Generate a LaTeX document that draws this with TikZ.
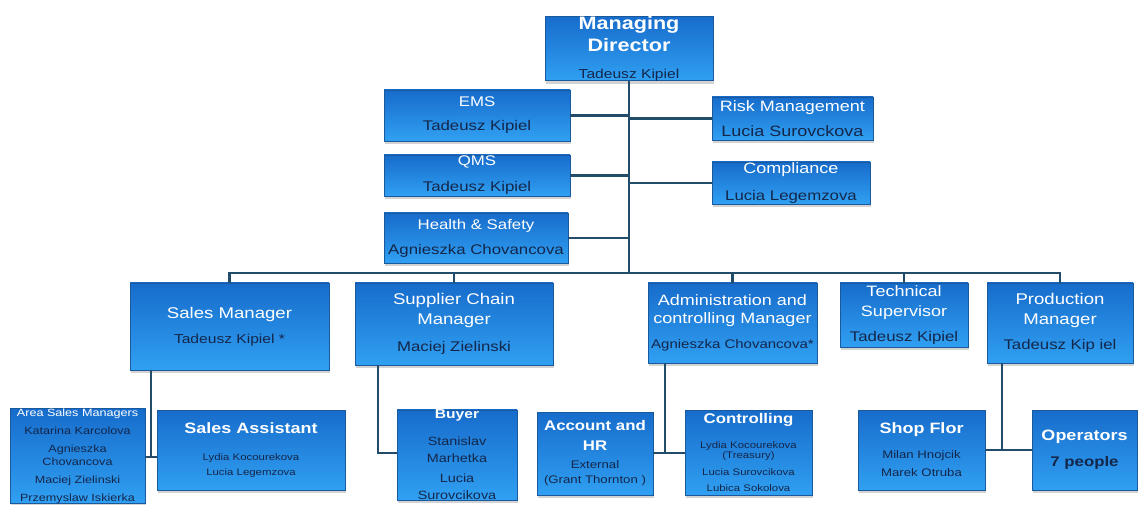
\documentclass[tikz,border=0pt]{standalone}
\usepackage{fontspec}
\setmainfont{Liberation Sans}[FakeStretch=1.2]
\usetikzlibrary{shadows}
\definecolor{boxtop}{HTML}{176CCB}
\definecolor{boxbot}{HTML}{30A0F2}
\definecolor{boxline}{HTML}{1A5A9C}
\definecolor{linkc}{HTML}{224C6A}
\definecolor{namec}{HTML}{14264A}
\tikzstyle{box}=[draw=boxline, line width=0.8pt, top color=boxtop, bottom color=boxbot, inner sep=0pt, align=center, drop shadow={shadow xshift=1pt, shadow yshift=-3pt, opacity=0.35}]
\tikzstyle{link}=[draw=linkc, line width=2.5pt]
\tikzset{rows/.style={font=\fontsize{10}{#1}\selectfont}}
\newcommand{\ttl}[2]{{\color{white}\fontsize{#1}{#1}\selectfont #2}}
\newcommand{\ttb}[2]{{\color{white}\bfseries\fontsize{#1}{#1}\selectfont #2}}
\newcommand{\nm}[2]{{\color{namec}\fontsize{#1}{#1}\selectfont #2}}

\begin{document}
\begin{tikzpicture}[x=1pt, y=-1pt]
\useasboundingbox (0,0) rectangle (1141,505);
% Top
    \node[box, minimum width=168, minimum height=63, rows=22] (md) at (629,48.5) {\ttb{18}{Managing}\\\ttb{18}{Director}\\[5pt]\nm{13}{Tadeusz Kipiel}};
% Staff
    \node[box, minimum width=186, minimum height=51, rows=24] (ems) at (477,115.5) {\ttl{14}{EMS}\\\nm{14}{Tadeusz Kipiel}};
    \node[box, minimum width=161, minimum height=43, rows=25] (risk) at (792.5,118.5) {\ttl{15}{Risk Management}\\\nm{15}{Lucia Surovckova}};
    \node[box, minimum width=186, minimum height=41, rows=26] (qms) at (477,175.5) {\ttl{14}{QMS}\\\nm{14}{Tadeusz Kipiel}};
    \node[box, minimum width=158, minimum height=42, rows=27] (comp) at (791,183) {\ttl{15}{Compliance}\\\nm{14}{Lucia Legemzova}};
    \node[box, minimum width=184, minimum height=50, rows=25] (hs) at (476,238) {\ttl{14}{Health \& Safety}\\\nm{14}{Agnieszka Chovancova}};
% Managers
    \node[box, minimum width=199, minimum height=87, rows=25] (sales) at (229.5,326.5) {\ttl{15.5}{Sales Manager}\\\nm{13}{Tadeusz Kipiel *}};
    \node[box, minimum width=198, minimum height=82, rows=20] (supply) at (454,324) {\ttl{15.5}{Supplier Chain}\\\ttl{15.5}{Manager}\\[7pt]\nm{14}{Maciej Zielinski}};
    \node[box, minimum width=169, minimum height=80, rows=18] (admin) at (732.5,323) {\ttl{15}{Administration and}\\\ttl{15}{controlling Manager}\\[7pt]\nm{12.5}{Agnieszka Chovancova*}};
    \node[box, minimum width=128, minimum height=64, rows=20] (tech) at (904,315) {\ttl{15}{Technical}\\\ttl{15}{Supervisor}\\[5pt]\nm{14}{Tadeusz Kipiel}};
    \node[box, minimum width=146, minimum height=80, rows=20] (prod) at (1060,323) {\ttl{15.5}{Production}\\\ttl{15.5}{Manager}\\[5pt]\nm{14}{Tadeusz Kip iel}};
% Teams
    \node[box, minimum width=135, minimum height=92, rows=13] (area) at (77.5,456) {\ttl{10.5}{Area Sales Managers}\\[5pt]\nm{10.5}{Katarina Karcolova}\\[5pt]\nm{10.5}{Agnieszka}\\\nm{10.5}{Chovancova}\\[5pt]\nm{10.5}{Maciej Zielinski}\\[5pt]\nm{10.5}{Przemyslaw Iskierka}};
    \node[box, minimum width=188, minimum height=80, rows=15] (assist) at (251,450) {\ttb{15}{Sales Assistant}\\[12pt]\nm{9.5}{Lydia Kocourekova}\\\nm{9.5}{Lucia Legemzova}};
    \node[box, minimum width=120, minimum height=86, rows=17] (buyer) at (457,455) {\ttb{13}{Buyer}\\[10pt]\nm{12}{Stanislav}\\\nm{12}{Marhetka}\\[3pt]\nm{12}{Lucia}\\\nm{12}{Surovcikova}};
    \node[box, minimum width=116, minimum height=83, rows=15] (acc) at (595,453.5) {\ttb{14}{Account and}\\[5pt]\ttb{14}{HR}\\[3pt]\nm{11}{External}\\\nm{11}{(Grant Thornton )}};
    \node[box, minimum width=127, minimum height=85, rows=10] (ctrl) at (748.5,452.5) {\ttb{14}{Controlling}\\[15pt]\nm{9.5}{Lydia Kocourekova}\\\nm{9.5}{(Treasury)}\\[7pt]\nm{9.5}{Lucia Surovcikova}\\[6pt]\nm{9.5}{Lubica Sokolova}};
    \node[box, minimum width=127, minimum height=80, rows=18] (shop) at (921.5,450) {\ttb{15}{Shop Flor}\\[7pt]\nm{11}{Milan Hnojcik}\\\nm{11}{Marek Otruba}};
    \node[box, minimum width=105, minimum height=80, rows=26] (ops) at (1084.5,450) {\ttb{15}{Operators}\\\nm{14}{\bfseries 7 people}};
% Lines
    \coordinate (bus) at (629,273);
    \coordinate (salesj) at (151,457);
    \coordinate (supj) at (378,453);
    \coordinate (admj) at (665,453);
    \coordinate (prodj) at (1002,450);
    \draw[link] (md.south) -- (bus);
    \draw[link] (ems.east) -- (ems.east -| md.south);
    \draw[link] (qms.east) -- (qms.east -| md.south);
    \draw[link] (hs.east) -- (hs.east -| md.south);
    \draw[link] (risk.west) -- (risk.west -| md.south);
    \draw[link] (comp.west) -- (comp.west -| md.south);
    \draw[link] (sales.north) |- (bus) -| (prod.north);
    \draw[link] (supply.north) -- (supply.north |- bus);
    \draw[link] (admin.north) -- (admin.north |- bus);
    \draw[link] (tech.north) -- (tech.north |- bus);
    \draw[link] (sales.south -| salesj) -- (salesj);
    \draw[link] (area.east |- salesj) -- (assist.west |- salesj);
    \draw[link] (supply.south -| supj) -- (supj) -- (buyer.west |- supj);
    \draw[link] (admin.south -| admj) -- (admj);
    \draw[link] (acc.east |- admj) -- (ctrl.west |- admj);
    \draw[link] (prod.south -| prodj) -- (prodj);
    \draw[link] (shop.east |- prodj) -- (ops.west |- prodj);
\end{tikzpicture}
\end{document}
